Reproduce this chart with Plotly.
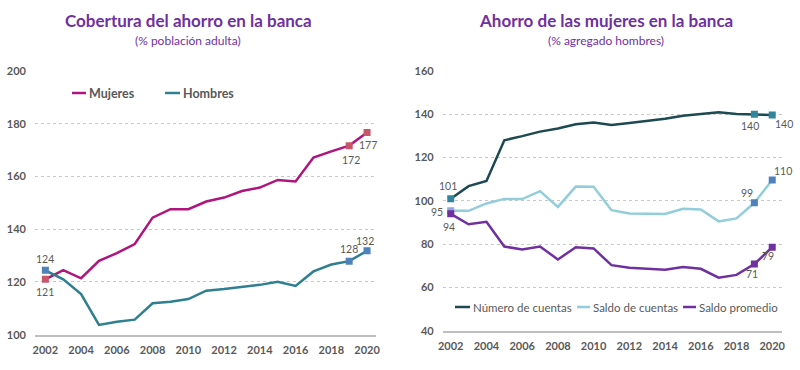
import plotly.graph_objects as go

# ---------------- data ----------------
years = list(range(2002, 2021))
x_ticks = [2002, 2004, 2006, 2008, 2010, 2012, 2014, 2016, 2018, 2020]

# Left chart: Cobertura del ahorro en la banca (% población adulta)
mujeres = [121, 124.5, 121.4, 128, 130.9, 134.4, 144.4, 147.6, 147.6, 150.5,
           152, 154.5, 155.8, 158.7, 158.1, 167.2, 169.5, 171.7, 176.7]
hombres = [124.4, 121, 115.4, 103.7, 104.9, 105.7, 111.9, 112.5, 113.5, 116.7,
           117.3, 118.2, 118.9, 120.1, 118.5, 124, 126.6, 127.9, 131.8]
left_yticks = [100, 120, 140, 160, 180, 200]

# Right chart: Ahorro de las mujeres en la banca (% agregado hombres)
numero_cuentas = [101, 106.8, 109.2, 128, 129.9, 132, 133.4, 135.4, 136.2, 135.1,
                  136, 137, 137.9, 139.3, 140.1, 140.9, 140.1, 140, 139.7]
saldo_cuentas = [95.4, 95.4, 98.8, 100.9, 100.8, 104.5, 97.2, 106.6, 106.5, 95.7,
                 94.2, 93.9, 93.9, 96.3, 96, 90.5, 91.9, 99.1, 109.6]
saldo_promedio = [94, 89.2, 90.3, 78.9, 77.5, 78.9, 72.9, 78.6, 78, 70.3,
                  69.1, 68.5, 68.2, 69.4, 68.6, 64.5, 65.8, 70.8, 78.6]
right_yticks = [40, 60, 80, 100, 120, 140, 160]

# indices of the labelled points
labelled = [0, 17, 18]

# ---------------- styles ----------------
FONT = "Lato"
GRAY = "#595959"
GRID = "#C8C8C8"
PURPLE_T = "#7030A0"
C_MUJ = "#B0157F"
C_HOM = "#2E7F90"
C_NUM = "#1D4A52"
C_SAL = "#92CDDC"
C_PRO = "#7030A0"
M_MUJ = "#C8566B"
M_HOM = "#4F81BD"

W, H = 800, 370
fig = go.Figure()


def add_series(name, y, color, xa, ya, marker_colors):
    fig.add_trace(go.Scatter(
        x=years, y=y, name=name, mode="lines",
        line=dict(color=color, width=2.5),
        xaxis=xa, yaxis=ya, showlegend=False, hoverinfo="x+y"))
    fig.add_trace(go.Scatter(
        x=[years[i] for i in labelled], y=[y[i] for i in labelled],
        mode="markers", marker=dict(symbol="square", size=7, color=marker_colors),
        xaxis=xa, yaxis=ya, showlegend=False, hoverinfo="skip"))


add_series("Mujeres", mujeres, C_MUJ, "x", "y", M_MUJ)
add_series("Hombres", hombres, C_HOM, "x", "y", M_HOM)
add_series("Número de cuentas", numero_cuentas, C_NUM, "x2", "y2", "#31859C")
add_series("Saldo de cuentas", saldo_cuentas, C_SAL, "x2", "y2", ["#8EA9DB", M_HOM, M_HOM])
add_series("Saldo promedio", saldo_promedio, C_PRO, "x2", "y2", C_PRO)

# ---------------- data labels ----------------
def label(xa, ya, series, idx, dx, dy):
    fig.add_annotation(x=years[idx], y=series[idx], xref=xa, yref=ya,
                       text=f"{series[idx]:.0f}", showarrow=False,
                       xanchor="center", yanchor="middle",
                       xshift=dx, yshift=dy,
                       font=dict(family=FONT, size=10.5, color=GRAY))

label("x", "y", hombres, 0, 0, 11)
label("x", "y", mujeres, 0, 0, -13)
label("x", "y", mujeres, 17, 2, -14)
label("x", "y", mujeres, 18, 1, -13)
label("x", "y", hombres, 17, 0, 12)
label("x", "y", hombres, 18, -2, 10)

label("x2", "y2", numero_cuentas, 0, -3, 13)
label("x2", "y2", saldo_cuentas, 0, -14, -1)
label("x2", "y2", saldo_promedio, 0, -2, -13)
label("x2", "y2", numero_cuentas, 17, -4, -12)
label("x2", "y2", numero_cuentas, 18, 12, -9)
label("x2", "y2", saldo_cuentas, 17, -7, 10)
label("x2", "y2", saldo_cuentas, 18, 11, 9)
label("x2", "y2", saldo_promedio, 17, -2, -10)
label("x2", "y2", saldo_promedio, 18, -4, -9)

# ---------------- titles ----------------
def title(xc, text, sub):
    fig.add_annotation(x=xc / W, y=1 - 20 / H, xref="paper", yref="paper",
                       xanchor="center", yanchor="middle",
                       text=f"<b>{text}</b>", showarrow=False,
                       font=dict(family=FONT, size=17, color=PURPLE_T))
    fig.add_annotation(x=xc / W, y=1 - 40 / H, xref="paper", yref="paper",
                       xanchor="center", yanchor="middle",
                       text=sub, showarrow=False,
                       font=dict(family=FONT, size=12, color=PURPLE_T))

title(188, "Cobertura del ahorro en la banca", "(% población adulta)")
title(606, "Ahorro de las mujeres en la banca", "(% agregado hombres)")

# ---------------- legends (swatch + text) ----------------
def legend_item(x0, x1, yc, color, text, bold, size):
    fig.add_shape(type="line", xref="paper", yref="paper",
                  x0=x0 / W, x1=x1 / W, y0=1 - yc / H, y1=1 - yc / H,
                  line=dict(color=color, width=2.5))
    fig.add_annotation(x=(x1 + 1) / W, y=1 - yc / H, xref="paper", yref="paper",
                       xanchor="left", yanchor="middle", showarrow=False,
                       text=(f"<b>{text}</b>" if bold else text),
                       font=dict(family=FONT, size=size, color=GRAY))

legend_item(72, 86, 93, C_MUJ, "Mujeres", True, 12.5)
legend_item(165, 180, 93, C_HOM, "Hombres", True, 12.5)
legend_item(455, 470, 307, C_NUM, "Número de cuentas", False, 11.5)
legend_item(577, 590, 307, C_SAL, "Saldo de cuentas", False, 11.5)
legend_item(683, 696, 307, C_PRO, "Saldo promedio", False, 11.5)

# ---------------- axes ----------------
xcommon = dict(tickvals=x_ticks, showgrid=False, showline=True, linecolor="#BFBFBF",
               linewidth=1.5, ticks="", zeroline=False, ticklabelstandoff=4,
               tickfont=dict(family=FONT, size=11, color=GRAY, weight="bold"))
ycommon = dict(showgrid=True, gridcolor=GRID, griddash="dot", gridwidth=1,
               showline=False, zeroline=False, ticks="", ticklabelstandoff=8,
               tickfont=dict(family=FONT, size=11, color=GRAY, weight="bold"))

fig.update_layout(
    width=W, height=H,
    margin=dict(l=0, r=0, t=0, b=0, autoexpand=False),
    paper_bgcolor="white", plot_bgcolor="white",
    xaxis=dict(xcommon, domain=[35 / W, 376 / W], range=[2001.42, 2020.5], anchor="y"),
    yaxis=dict(ycommon, domain=[1 - 334.7 / H, 1 - 71 / H], range=[100, 200],
               tickvals=left_yticks, anchor="x"),
    xaxis2=dict(xcommon, domain=[442.7 / W, 781.7 / W], range=[2001.55, 2020.53],
                anchor="y2"),
    yaxis2=dict(ycommon, domain=[1 - 330.7 / H, 1 - 71 / H], range=[40, 160],
                tickvals=right_yticks, anchor="x2"),
    showlegend=False,
)

# remove the browser's default 8px page margin so the 800x370 figure fills the window
fig.write_html("out.html",
               config={"displayModeBar": False},
               post_script="document.body.style.margin='0';document.body.style.overflow='hidden';")
